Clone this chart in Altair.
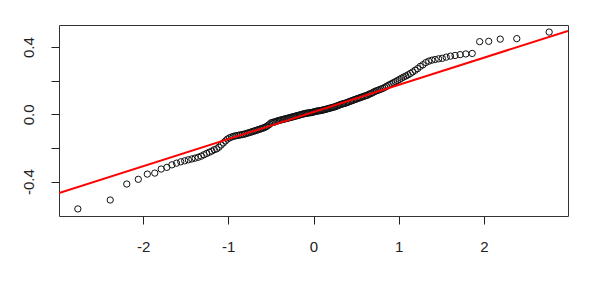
import altair as alt
import pandas as pd
import numpy as np
from statistics import NormalDist

# Sample values (sorted)
sample = [
    -0.562, -0.509, -0.414, -0.386, -0.355, -0.349, -0.325, -0.315, -0.300, -0.290,
    -0.282, -0.276, -0.270, -0.265, -0.260, -0.255, -0.248, -0.240, -0.232, -0.225,
    -0.218, -0.210, -0.205, -0.195, -0.182, -0.170, -0.158, -0.147, -0.140, -0.135,
    -0.131, -0.128, -0.126, -0.124, -0.122, -0.120, -0.118, -0.115, -0.112, -0.109,
    -0.106, -0.103, -0.100, -0.097, -0.094, -0.091, -0.088, -0.085, -0.082, -0.079,
    -0.075, -0.070, -0.064, -0.058, -0.050, -0.048, -0.046, -0.044, -0.041, -0.038,
    -0.036, -0.034, -0.032, -0.030, -0.028, -0.026, -0.024, -0.022, -0.020, -0.018,
    -0.016, -0.014, -0.012, -0.010, -0.008, -0.006, -0.004, -0.002, 0.000, 0.002,
    0.004, 0.006, 0.007, 0.008, 0.009, 0.010, 0.011, 0.013, 0.015, 0.017,
    0.019, 0.020, 0.021, 0.022, 0.024, 0.025, 0.027, 0.029, 0.031, 0.033,
    0.035, 0.037, 0.039, 0.041, 0.043, 0.045, 0.048, 0.051, 0.054, 0.057,
    0.060, 0.062, 0.064, 0.066, 0.069, 0.072, 0.075, 0.078, 0.081, 0.084,
    0.087, 0.090, 0.093, 0.096, 0.099, 0.102, 0.105, 0.108, 0.111, 0.113,
    0.119, 0.122, 0.126, 0.131, 0.136, 0.140, 0.143, 0.147, 0.151, 0.155,
    0.160, 0.166, 0.172, 0.178, 0.183, 0.189, 0.195, 0.201, 0.208, 0.215,
    0.222, 0.228, 0.235, 0.243, 0.252, 0.262, 0.272, 0.285, 0.295, 0.308,
    0.316, 0.322, 0.326, 0.330, 0.333, 0.340, 0.346, 0.350, 0.355, 0.359,
    0.362, 0.432, 0.434, 0.447, 0.450, 0.489,
]

x_ticks = [-2, -1, 0, 1, 2]
y_ticks = [-0.4, -0.2, 0.0, 0.2, 0.4]

n = len(sample)
nd = NormalDist()
qmax = nd.inv_cdf((n - 0.5) / n)
xpad = 2 * qmax * 0.04
x_dom = [-qmax - xpad, qmax + xpad]
ymin, ymax = min(sample), max(sample)
ypad = (ymax - ymin) * 0.04
y_dom = [ymin - ypad, ymax + ypad]

# qqline through the quartiles
q1, q3 = np.quantile(sample, [0.25, 0.75])
z1, z3 = nd.inv_cdf(0.25), nd.inv_cdf(0.75)
slope = (q3 - q1) / (z3 - z1)
intercept = q1 - slope * z1

df = pd.DataFrame({"sample": sample})
line_df = pd.DataFrame({"x": x_dom, "y": [intercept + slope * v for v in x_dom]})

FONT = "Liberation Sans"

x_scale = alt.Scale(domain=x_dom, nice=False, zero=False)
y_scale = alt.Scale(domain=y_dom, nice=False, zero=False)

x_axis = alt.Axis(
    values=x_ticks, title=None, grid=False, domain=False,
    tickColor="#222", tickSize=8, tickWidth=1,
    labelFont=FONT, labelFontSize=15, labelColor="#222", labelPadding=15,
    labelExpr="datum.value < 0 ? '-' + abs(datum.value) : '' + datum.value",
)
y_axis = alt.Axis(
    values=y_ticks, title=None, grid=False, domain=False,
    tickColor="#222", tickSize=8, tickWidth=1,
    labelFont=FONT, labelFontSize=15, labelColor="#222", labelPadding=15,
    labelAngle=-90, labelAlign="center", labelBaseline="bottom",
    labelExpr="abs(datum.value) > 0.3 ? (datum.value < 0 ? '-0.4' : '0.4') : (abs(datum.value) < 0.01 ? '0.0' : '')",
)

points = alt.Chart(df).transform_window(
    rank="row_number()", sort=[alt.SortField("sample")]
).transform_joinaggregate(
    n="count()"
).transform_calculate(
    theo="quantileNormal((datum.rank - 0.5) / datum.n)"
).mark_point(
    shape="circle", filled=False, size=40, strokeWidth=1, color="#111", opacity=1
).encode(
    x=alt.X("theo:Q", scale=x_scale, axis=x_axis),
    y=alt.Y("sample:Q", scale=y_scale, axis=y_axis),
)

qqline = alt.Chart(line_df).mark_line(color="#ff0000", strokeWidth=2, clip=True).encode(
    x=alt.X("x:Q", scale=x_scale),
    y=alt.Y("y:Q", scale=y_scale),
)

chart = alt.layer(points, qqline).properties(
    width=509, height=191,
    autosize=alt.AutoSizeParams(type="none"),
    padding={"left": 51, "top": 17, "right": 18, "bottom": 63},
    background="white",
).configure_view(stroke="#333", strokeWidth=1)

chart.save("out.html", embed_options={"renderer": "svg", "actions": False})
